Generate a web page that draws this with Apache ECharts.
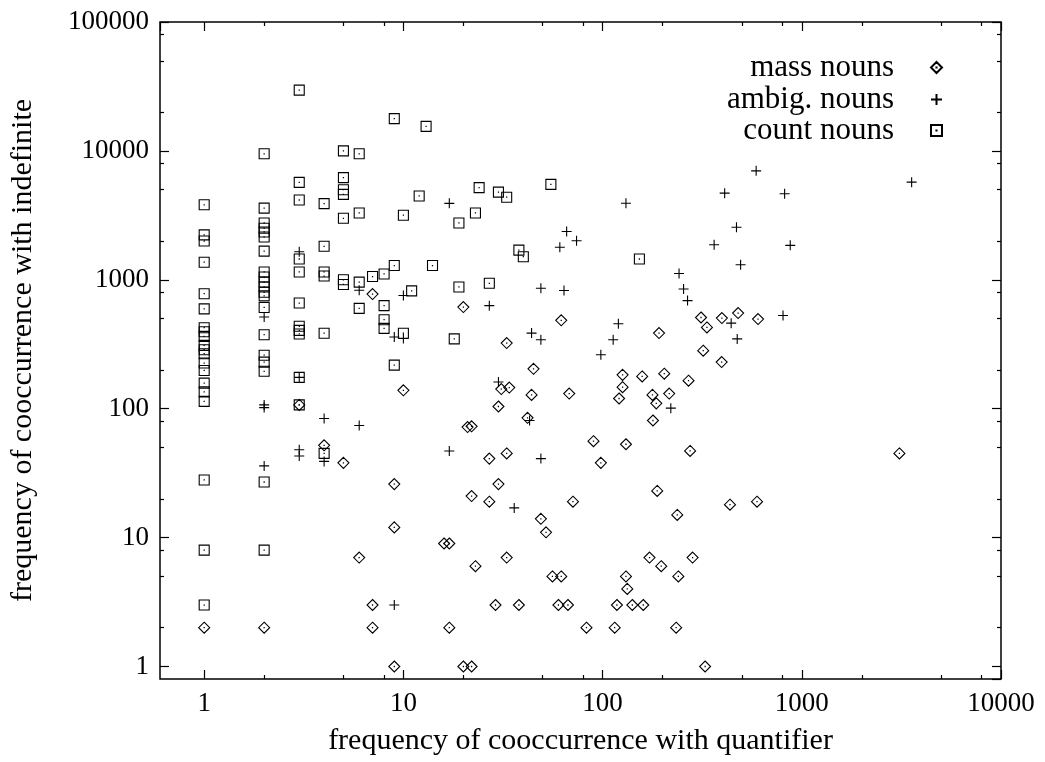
<!DOCTYPE html>
<html><head><meta charset="utf-8">
<script src="https://cdn.jsdelivr.net/npm/echarts@6/dist/echarts.min.js"></script>
<style>html,body{margin:0;padding:0;background:#fff}#c{width:1045px;height:762px}</style>
</head><body><div id="c"></div>
<script>
const seriesNames = ['mass nouns', 'ambig. nouns', 'count nouns'];
const massNouns = [[1,2],[2,2],[3,107],[4,52],[5,38],[6,7],[7,775],[7,3],[7,2],[9,26],[9,12],[9,1],[10,139],[16,9],[17,9],[17,2],[20,615],[20,1],[21,72],[22,73],[22,21],[22,1],[23,6],[27,41],[27,19],[29,3],[30,104],[30,26],[31,142],[33,323],[33,45],[33,7],[34,146],[38,3],[42,85],[44,128],[45,204],[49,14],[52,11],[56,5],[60,3],[62,485],[62,5],[67,3],[68,131],[71,19],[83,2],[90,56],[98,38],[115,2],[118,3],[121,120],[126,183],[126,147],[131,53],[131,5],[133,4],[141,3],[158,178],[160,3],[172,7],[178,128],[179,81],[186,110],[188,23],[192,386],[197,6],[204,187],[216,131],[234,2],[237,15],[240,5],[270,165],[275,47],[283,7],[312,510],[320,282],[327,1],[334,427],[396,230],[397,505],[436,18],[479,552],[596,19],[603,496],[3090,45]];
const ambigNouns = [[2,515],[2,107],[2,102],[2,36],[3,1650],[3,175],[3,48],[3,43],[4,84],[4,39],[6,830],[6,74],[9,360],[9,3],[10,755],[10,350],[17,3920],[17,47],[27,630],[30,161],[36,17],[43,81],[44,386],[49,860],[49,343],[49,41],[61,1790],[64,826],[66,2370],[74,2010],[98,262],[113,343],[120,456],[131,3930],[220,101],[242,1120],[255,848],[267,690],[363,1870],[410,4700],[442,461],[470,2560],[474,348],[493,1310],[590,7000],[805,529],[820,4650],[875,1850],[3560,5720]];
const countNouns = [[1,3820],[1,2230],[1,2000],[1,1370],[1,780],[1,595],[1,425],[1,395],[1,364],[1,310],[1,287],[1,267],[1,226],[1,198],[1,158],[1,135],[1,114],[1,28],[1,8],[1,3],
[2,9500],[2,3600],[2,2760],[2,2510],[2,2350],[2,2150],[2,1670],[2,1150],[2,1050],[2,960],[2,880],[2,800],[2,750],[2,610],[2,375],[2,260],[2,230],[2,195],[2,27],[2,8],
[3,29600],[3,5700],[3,4160],[3,1450],[3,1150],[3,660],[3,436],[3,405],[3,380],[3,175],[3,107],
[4,3900],[4,1820],[4,1150],[4,1070],[4,385],[4,45],
[5,10000],[5,6200],[5,5000],[5,4600],[5,3000],[5,1000],[5,920],
[6,9500],[6,3300],[6,960],[6,600],
[7,1060],[8,1110],[8,630],[8,490],[8,420],[9,17800],[9,1290],[9,218],[10,3170],[10,385],[11,820],[12,4470],[13,15500],[14,1290],[18,348],[19,2760],[19,880],[23,3300],[24,5190],[27,940],[30,4790],[33,4370],[38,1700],[40,1510],[55,5500],[153,1450]];
const xTickLabels = [1, 10, 100, 1000, 10000];
const yTickLabels = [1, 10, 100, 1000, 10000, 100000];
const xMinorTicks = [2,5,8,20,50,80,200,500,800,2000,5000,8000];
const yMinorTicks = [2,5,8,20,50,80,200,500,800,2000,5000,8000,20000,50000,80000];
const xRange = [0.6, 10000];
const yRange = [0.8, 100000];
const xTitle = 'frequency of cooccurrence with quantifier';
const yTitle = 'frequency of cooccurrence with indefinite';

const FONT = "'Liberation Serif', 'DejaVu Serif', serif";
const FS = 27;
const FS_TITLE = 30;
const FS_LEGEND = 31;
const chart = echarts.init(document.getElementById('c'), null, {renderer: 'canvas'});

function labelFmt(list) {
  return function (v) {
    const r = Math.round(v);
    return (Math.abs(v - r) < 1e-6 && list.indexOf(r) >= 0) ? String(r) : '';
  };
}
const dot = ' M4.92,4.92L5.08,4.92L5.08,5.08L4.92,5.08Z';
const diamondPath = 'path://M5,0L10,5L5,10L0,5Z' + dot;
const plusPath = 'path://M0,5L10,5M5,0L5,10';
const squarePath = 'path://M0,0L10,0L10,10L0,10Z' + dot;
const symbols = [diamondPath, plusPath, squarePath];
const sizes = [11, 10, 10];
const datas = [massNouns, ambigNouns, countNouns];

function majorLogAxis(pos, range, labels, showLabel, name, nameGap) {
  return {
    type: 'log', logBase: 10, position: pos, min: range[0], max: range[1],
    axisLine: {show: false, onZero: false},
    axisTick: {show: true, inside: true, length: 9, lineStyle: {color: '#000', width: 1.2}},
    minorTick: {show: false},
    splitLine: {show: false},
    axisLabel: {show: showLabel, showMinLabel: false, formatter: labelFmt(labels),
      color: '#000', fontFamily: FONT, fontSize: FS, margin: 11},
    name: name || '', nameLocation: 'middle', nameGap: nameGap || 0,
    nameTextStyle: {color: '#000', fontFamily: FONT, fontSize: FS_TITLE}
  };
}
function minorAxis(pos, range, ticks) {
  return {
    type: 'value', position: pos, min: Math.log10(range[0]), max: Math.log10(range[1]),
    axisLine: {show: false, onZero: false},
    axisTick: {show: true, inside: true, length: 4, customValues: ticks.map(Math.log10),
      lineStyle: {color: '#000', width: 1.2}},
    axisLabel: {show: false},
    splitLine: {show: false}
  };
}

const legends = seriesNames.map((n, i) => ({
  data: [n], orient: 'vertical', align: 'right', right: 102, top: [52, 84, 115][i],
  padding: 0, itemWidth: 11, itemHeight: 11, itemGap: 0,
  textStyle: {color: '#000', fontFamily: FONT, fontSize: FS_LEGEND, padding: [0, 32, 0, 0]},
  selectedMode: false
}));

chart.setOption({
  animation: false,
  backgroundColor: '#fff',
  grid: {left: 160, right: 44, top: 22, bottom: 83, show: true, borderColor: '#000', borderWidth: 1.5, containLabel: false},
  legend: legends,
  xAxis: [
    majorLogAxis('bottom', xRange, xTickLabels, true, xTitle, 47),
    majorLogAxis('top', xRange, xTickLabels, false),
    minorAxis('bottom', xRange, xMinorTicks),
    minorAxis('top', xRange, xMinorTicks)
  ],
  yAxis: [
    majorLogAxis('left', yRange, yTickLabels, true, yTitle, 122),
    majorLogAxis('right', yRange, yTickLabels, false),
    minorAxis('left', yRange, yMinorTicks),
    minorAxis('right', yRange, yMinorTicks)
  ],
  series: datas.map((d, i) => ({
    name: seriesNames[i], type: 'scatter', xAxisIndex: 0, yAxisIndex: 0,
    data: d, symbol: symbols[i], symbolSize: sizes[i], symbolKeepAspect: true,
    itemStyle: {color: 'rgba(0,0,0,0)', borderColor: '#000', borderWidth: 1.1, opacity: 1},
    emphasis: {disabled: true}
  }))
});
</script></body></html>
